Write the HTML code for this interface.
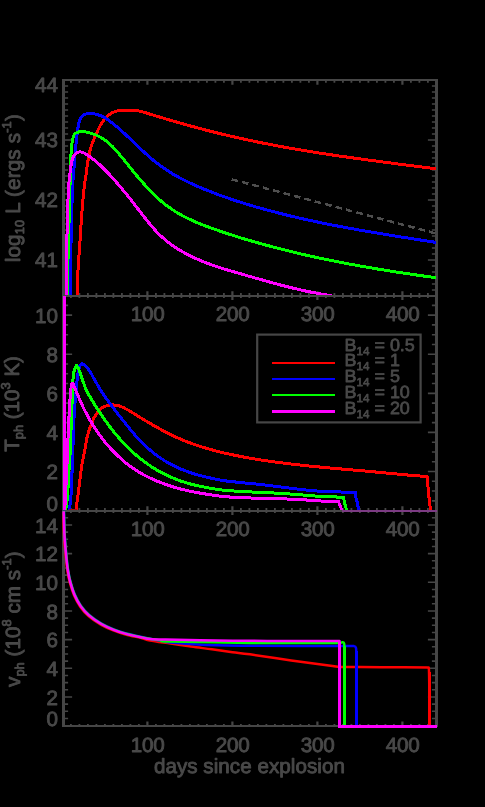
<!DOCTYPE html>
<html><head><meta charset="utf-8"><title>figure</title>
<style>
html,body{margin:0;padding:0;background:#000;}
body{width:485px;height:807px;overflow:hidden;font-family:"Liberation Sans",sans-serif;}
svg{display:block;}
text{font-family:"Liberation Sans",sans-serif;}
</style></head><body>
<svg width="485" height="807" viewBox="0 0 485 807">
<rect width="485" height="807" fill="#000"/>
<!-- panel 1 -->
<g stroke="#464646" fill="none">
<path stroke-width="3" d="M63.5 79.0 V297.0 M436.5 79.0 V297.0"/>
<path stroke-width="2" d="M62.0 80.0 H438.0 M62.0 296.0 H438.0"/>
<path stroke-width="1.8" d="M70.90 80.00 v2.80 M70.90 296.00 v-2.90 M79.40 80.00 v2.80 M79.40 296.00 v-2.90 M87.90 80.00 v2.80 M87.90 296.00 v-2.90 M96.40 80.00 v2.80 M96.40 296.00 v-2.90 M104.90 80.00 v2.80 M104.90 296.00 v-2.90 M113.40 80.00 v2.80 M113.40 296.00 v-2.90 M121.90 80.00 v2.80 M121.90 296.00 v-2.90 M130.40 80.00 v2.80 M130.40 296.00 v-2.90 M138.90 80.00 v2.80 M138.90 296.00 v-2.90 M155.90 80.00 v2.80 M155.90 296.00 v-2.90 M164.40 80.00 v2.80 M164.40 296.00 v-2.90 M172.90 80.00 v2.80 M172.90 296.00 v-2.90 M181.40 80.00 v2.80 M181.40 296.00 v-2.90 M189.90 80.00 v2.80 M189.90 296.00 v-2.90 M198.40 80.00 v2.80 M198.40 296.00 v-2.90 M206.90 80.00 v2.80 M206.90 296.00 v-2.90 M215.40 80.00 v2.80 M215.40 296.00 v-2.90 M223.90 80.00 v2.80 M223.90 296.00 v-2.90 M240.90 80.00 v2.80 M240.90 296.00 v-2.90 M249.40 80.00 v2.80 M249.40 296.00 v-2.90 M257.90 80.00 v2.80 M257.90 296.00 v-2.90 M266.40 80.00 v2.80 M266.40 296.00 v-2.90 M274.90 80.00 v2.80 M274.90 296.00 v-2.90 M283.40 80.00 v2.80 M283.40 296.00 v-2.90 M291.90 80.00 v2.80 M291.90 296.00 v-2.90 M300.40 80.00 v2.80 M300.40 296.00 v-2.90 M308.90 80.00 v2.80 M308.90 296.00 v-2.90 M325.90 80.00 v2.80 M325.90 296.00 v-2.90 M334.40 80.00 v2.80 M334.40 296.00 v-2.90 M342.90 80.00 v2.80 M342.90 296.00 v-2.90 M351.40 80.00 v2.80 M351.40 296.00 v-2.90 M359.90 80.00 v2.80 M359.90 296.00 v-2.90 M368.40 80.00 v2.80 M368.40 296.00 v-2.90 M376.90 80.00 v2.80 M376.90 296.00 v-2.90 M385.40 80.00 v2.80 M385.40 296.00 v-2.90 M393.90 80.00 v2.80 M393.90 296.00 v-2.90 M410.90 80.00 v2.80 M410.90 296.00 v-2.90 M419.40 80.00 v2.80 M419.40 296.00 v-2.90 M427.90 80.00 v2.80 M427.90 296.00 v-2.90"/>
<path stroke-width="2.2" d="M147.40 80.00 v4.80 M147.40 296.00 v-4.80 M232.40 80.00 v4.80 M232.40 296.00 v-4.80 M317.40 80.00 v4.80 M317.40 296.00 v-4.80 M402.40 80.00 v4.80 M402.40 296.00 v-4.80"/>
<path stroke-width="1.6" d="M63.50 290.00 h4.60 M436.50 290.00 h-4.60 M63.50 284.00 h4.60 M436.50 284.00 h-4.60 M63.50 278.00 h4.60 M436.50 278.00 h-4.60 M63.50 272.00 h4.60 M436.50 272.00 h-4.60 M63.50 266.00 h4.60 M436.50 266.00 h-4.60 M63.50 260.00 h8.60 M436.50 260.00 h-8.60 M63.50 254.00 h4.60 M436.50 254.00 h-4.60 M63.50 248.00 h4.60 M436.50 248.00 h-4.60 M63.50 242.00 h4.60 M436.50 242.00 h-4.60 M63.50 236.00 h4.60 M436.50 236.00 h-4.60 M63.50 230.00 h4.60 M436.50 230.00 h-4.60 M63.50 224.00 h4.60 M436.50 224.00 h-4.60 M63.50 218.00 h4.60 M436.50 218.00 h-4.60 M63.50 212.00 h4.60 M436.50 212.00 h-4.60 M63.50 206.00 h4.60 M436.50 206.00 h-4.60 M63.50 200.00 h8.60 M436.50 200.00 h-8.60 M63.50 194.00 h4.60 M436.50 194.00 h-4.60 M63.50 188.00 h4.60 M436.50 188.00 h-4.60 M63.50 182.00 h4.60 M436.50 182.00 h-4.60 M63.50 176.00 h4.60 M436.50 176.00 h-4.60 M63.50 170.00 h4.60 M436.50 170.00 h-4.60 M63.50 164.00 h4.60 M436.50 164.00 h-4.60 M63.50 158.00 h4.60 M436.50 158.00 h-4.60 M63.50 152.00 h4.60 M436.50 152.00 h-4.60 M63.50 146.00 h4.60 M436.50 146.00 h-4.60 M63.50 140.00 h8.60 M436.50 140.00 h-8.60 M63.50 134.00 h4.60 M436.50 134.00 h-4.60 M63.50 128.00 h4.60 M436.50 128.00 h-4.60 M63.50 122.00 h4.60 M436.50 122.00 h-4.60 M63.50 116.00 h4.60 M436.50 116.00 h-4.60 M63.50 110.00 h4.60 M436.50 110.00 h-4.60 M63.50 104.00 h4.60 M436.50 104.00 h-4.60 M63.50 98.00 h4.60 M436.50 98.00 h-4.60 M63.50 92.00 h4.60 M436.50 92.00 h-4.60 M63.50 86.00 h4.60 M436.50 86.00 h-4.60"/>
</g>
<clipPath id="c1"><rect x="60" y="70" width="380" height="226"/></clipPath>
<g fill="none" stroke-linejoin="round" shape-rendering="crispEdges" clip-path="url(#c1)">
<path d="M231.6 179.3 L436 233.5" stroke="#4e4e4e" stroke-width="2.5" stroke-dasharray="6.6 4.15"/>
<path d="M77.40 296.00 C77.43 294.93 77.52 293.58 77.60 289.60 C77.68 285.62 77.57 279.15 77.90 272.10 C78.23 265.05 78.98 256.58 79.60 247.30 C80.22 238.02 80.88 226.02 81.60 216.40 C82.32 206.78 83.20 196.30 83.90 189.60 C84.60 182.90 85.15 180.83 85.80 176.20 C86.45 171.57 86.95 166.62 87.80 161.80 C88.65 156.98 89.48 151.95 90.90 147.30 C92.32 142.65 94.45 138.02 96.30 133.90 C98.15 129.78 99.95 125.75 102.00 122.60 C104.05 119.45 106.27 116.90 108.60 115.00 C110.93 113.10 113.35 111.97 116.00 111.20 C118.65 110.42 121.50 110.49 124.50 110.35 C127.50 110.21 131.17 110.16 134.00 110.35 C136.83 110.54 138.75 110.86 141.50 111.51 C144.25 112.17 147.42 113.34 150.50 114.28 C153.58 115.23 154.98 115.68 160.00 117.16 C165.02 118.65 173.73 121.25 180.60 123.20 C187.47 125.15 194.32 127.04 201.20 128.85 C208.08 130.67 215.02 132.41 221.90 134.07 C228.78 135.73 236.15 137.41 242.50 138.81 C248.85 140.22 253.65 141.23 260.00 142.51 C266.35 143.78 273.73 145.22 280.60 146.48 C287.47 147.75 294.32 148.94 301.20 150.09 C308.08 151.24 315.02 152.34 321.90 153.41 C328.78 154.47 336.15 155.54 342.50 156.46 C348.85 157.37 355.32 158.26 360.00 158.91 C364.68 159.55 365.40 159.65 370.60 160.34 C375.80 161.03 384.32 162.16 391.20 163.06 C398.08 163.97 404.43 164.83 411.90 165.77 C419.37 166.71 431.98 168.21 436.00 168.70" stroke="#ff0000" stroke-width="3.0"/>
<path d="M70.10 296.00 C70.10 294.93 70.05 293.58 70.10 289.60 C70.15 285.62 70.20 281.93 70.40 272.10 C70.60 262.27 70.97 244.35 71.30 230.60 C71.63 216.85 72.05 198.67 72.40 189.60 C72.75 180.53 73.00 181.53 73.40 176.20 C73.80 170.87 74.23 164.13 74.80 157.60 C75.37 151.07 76.18 142.50 76.80 137.00 C77.42 131.50 77.82 127.85 78.50 124.60 C79.18 121.35 79.83 119.23 80.90 117.50 C81.97 115.77 83.23 114.85 84.90 114.20 C86.57 113.55 88.87 113.55 90.90 113.60 C92.93 113.65 94.87 113.85 97.10 114.50 C99.33 115.15 101.55 115.89 104.30 117.48 C107.05 119.08 110.33 121.48 113.60 124.07 C116.87 126.66 120.47 129.90 123.90 133.02 C127.33 136.14 130.42 139.21 134.20 142.77 C137.98 146.34 143.47 151.56 146.60 154.43 C149.73 157.30 150.77 158.15 153.00 159.99 C155.23 161.83 157.12 163.39 160.00 165.47 C162.88 167.54 166.87 170.31 170.30 172.45 C173.73 174.60 177.17 176.53 180.60 178.35 C184.03 180.17 187.47 181.79 190.90 183.39 C194.33 184.99 197.60 186.44 201.20 187.95 C204.80 189.46 209.05 191.12 212.50 192.46 C215.95 193.80 216.90 194.24 221.90 195.98 C226.90 197.72 236.15 200.87 242.50 202.88 C248.85 204.90 253.65 206.27 260.00 208.05 C266.35 209.83 273.73 211.80 280.60 213.54 C287.47 215.28 294.32 216.90 301.20 218.47 C308.08 220.03 315.02 221.51 321.90 222.93 C328.78 224.35 336.15 225.77 342.50 226.97 C348.85 228.17 355.32 229.31 360.00 230.15 C364.68 230.98 366.23 231.24 370.60 231.98 C374.97 232.72 380.15 233.59 386.20 234.58 C392.25 235.56 398.60 236.59 406.90 237.89 C415.20 239.20 431.15 241.65 436.00 242.40" stroke="#0000ff" stroke-width="3.0"/>
<path d="M67.20 296.00 C67.20 294.93 66.93 300.50 67.20 289.60 C67.47 278.70 68.35 247.27 68.80 230.60 C69.25 213.93 69.65 199.35 69.90 189.60 C70.15 179.85 70.13 177.77 70.30 172.10 C70.47 166.43 70.57 160.77 70.90 155.60 C71.23 150.43 71.75 144.62 72.30 141.10 C72.85 137.58 73.33 135.97 74.20 134.50 C75.07 133.03 76.17 132.80 77.50 132.30 C78.83 131.80 80.57 131.50 82.20 131.50 C83.83 131.50 85.83 131.98 87.30 132.30 C88.77 132.62 89.33 132.85 91.00 133.40 C92.67 133.95 95.05 134.53 97.30 135.60 C99.55 136.67 101.93 137.94 104.50 139.80 C107.07 141.66 109.63 143.67 112.70 146.79 C115.77 149.91 119.58 154.56 122.90 158.53 C126.22 162.50 129.70 167.05 132.60 170.60 C135.50 174.15 137.30 176.41 140.30 179.83 C143.30 183.26 147.17 187.63 150.60 191.15 C154.03 194.66 157.47 197.96 160.90 200.91 C164.33 203.86 167.77 206.46 171.20 208.84 C174.63 211.22 178.05 213.26 181.50 215.18 C184.95 217.09 188.45 218.76 191.90 220.34 C195.35 221.92 198.77 223.31 202.20 224.67 C205.63 226.02 209.07 227.24 212.50 228.48 C215.93 229.71 218.12 230.52 222.80 232.07 C227.48 233.62 234.20 235.84 240.60 237.80 C247.00 239.76 254.32 241.89 261.20 243.80 C268.08 245.72 275.02 247.56 281.90 249.30 C288.78 251.05 296.15 252.81 302.50 254.29 C308.85 255.76 312.92 256.68 320.00 258.17 C327.08 259.66 337.40 261.74 345.00 263.21 C352.60 264.68 358.73 265.77 365.60 266.97 C372.47 268.17 379.32 269.31 386.20 270.42 C393.08 271.53 398.60 272.39 406.90 273.61 C415.20 274.84 431.15 277.06 436.00 277.75" stroke="#00ff00" stroke-width="3.0"/>
<path d="M66.10 296.00 C66.10 294.93 66.07 293.58 66.10 289.60 C66.13 285.62 66.13 281.93 66.30 272.10 C66.47 262.27 66.75 244.35 67.10 230.60 C67.45 216.85 67.97 198.67 68.40 189.60 C68.83 180.53 69.22 180.50 69.70 176.20 C70.18 171.90 70.72 167.00 71.30 163.80 C71.88 160.60 72.38 158.77 73.20 157.00 C74.02 155.23 75.07 154.07 76.20 153.20 C77.33 152.33 78.58 151.78 80.00 151.80 C81.42 151.82 82.88 152.37 84.70 153.30 C86.52 154.23 88.67 155.74 90.90 157.40 C93.13 159.06 95.68 161.13 98.10 163.28 C100.52 165.42 102.82 167.65 105.40 170.28 C107.98 172.92 110.85 175.99 113.60 179.06 C116.35 182.13 119.15 185.40 121.90 188.69 C124.65 191.99 127.35 195.35 130.10 198.83 C132.85 202.30 135.65 206.00 138.40 209.53 C141.15 213.06 144.20 217.03 146.60 220.03 C149.00 223.02 150.57 224.97 152.80 227.50 C155.03 230.03 157.08 232.48 160.00 235.23 C162.92 237.97 166.87 241.41 170.30 243.98 C173.73 246.56 177.17 248.65 180.60 250.68 C184.03 252.71 187.47 254.46 190.90 256.16 C194.33 257.85 197.77 259.39 201.20 260.84 C204.63 262.28 208.05 263.56 211.50 264.81 C214.95 266.05 217.05 266.80 221.90 268.30 C226.75 269.80 234.05 271.91 240.60 273.81 C247.15 275.70 254.32 277.75 261.20 279.67 C268.08 281.59 275.02 283.56 281.90 285.34 C288.78 287.12 296.15 288.94 302.50 290.35 C308.85 291.77 315.17 292.89 320.00 293.82 C324.83 294.75 329.58 295.59 331.50 295.95" stroke="#ff00ff" stroke-width="3.0"/>
</g>
<!-- panel 2 -->
<g stroke="#464646" fill="none">
<path stroke-width="3" d="M63.5 295.0 V512.0 M436.5 295.0 V512.0"/>
<path stroke-width="2" d="M62.0 296.0 H438.0 M62.0 511.0 H438.0"/>
<path stroke-width="1.8" d="M70.90 296.00 v2.00 M70.90 511.00 v-2.90 M79.40 296.00 v2.00 M79.40 511.00 v-2.90 M87.90 296.00 v2.00 M87.90 511.00 v-2.90 M96.40 296.00 v2.00 M96.40 511.00 v-2.90 M104.90 296.00 v2.00 M104.90 511.00 v-2.90 M113.40 296.00 v2.00 M113.40 511.00 v-2.90 M121.90 296.00 v2.00 M121.90 511.00 v-2.90 M130.40 296.00 v2.00 M130.40 511.00 v-2.90 M138.90 296.00 v2.00 M138.90 511.00 v-2.90 M155.90 296.00 v2.00 M155.90 511.00 v-2.90 M164.40 296.00 v2.00 M164.40 511.00 v-2.90 M172.90 296.00 v2.00 M172.90 511.00 v-2.90 M181.40 296.00 v2.00 M181.40 511.00 v-2.90 M189.90 296.00 v2.00 M189.90 511.00 v-2.90 M198.40 296.00 v2.00 M198.40 511.00 v-2.90 M206.90 296.00 v2.00 M206.90 511.00 v-2.90 M215.40 296.00 v2.00 M215.40 511.00 v-2.90 M223.90 296.00 v2.00 M223.90 511.00 v-2.90 M240.90 296.00 v2.00 M240.90 511.00 v-2.90 M249.40 296.00 v2.00 M249.40 511.00 v-2.90 M257.90 296.00 v2.00 M257.90 511.00 v-2.90 M266.40 296.00 v2.00 M266.40 511.00 v-2.90 M274.90 296.00 v2.00 M274.90 511.00 v-2.90 M283.40 296.00 v2.00 M283.40 511.00 v-2.90 M291.90 296.00 v2.00 M291.90 511.00 v-2.90 M300.40 296.00 v2.00 M300.40 511.00 v-2.90 M308.90 296.00 v2.00 M308.90 511.00 v-2.90 M325.90 296.00 v2.00 M325.90 511.00 v-2.90 M334.40 296.00 v2.00 M334.40 511.00 v-2.90 M342.90 296.00 v2.00 M342.90 511.00 v-2.90 M351.40 296.00 v2.00 M351.40 511.00 v-2.90 M359.90 296.00 v2.00 M359.90 511.00 v-2.90 M368.40 296.00 v2.00 M368.40 511.00 v-2.90 M376.90 296.00 v2.00 M376.90 511.00 v-2.90 M385.40 296.00 v2.00 M385.40 511.00 v-2.90 M393.90 296.00 v2.00 M393.90 511.00 v-2.90 M410.90 296.00 v2.00 M410.90 511.00 v-2.90 M419.40 296.00 v2.00 M419.40 511.00 v-2.90 M427.90 296.00 v2.00 M427.90 511.00 v-2.90"/>
<path stroke-width="2.2" d="M147.40 296.00 v4.00 M147.40 511.00 v-4.80 M232.40 296.00 v4.00 M232.40 511.00 v-4.80 M317.40 296.00 v4.00 M317.40 511.00 v-4.80 M402.40 296.00 v4.00 M402.40 511.00 v-4.80"/>
<path stroke-width="1.6" d="M63.50 500.83 h4.60 M436.50 500.83 h-4.60 M63.50 491.05 h4.60 M436.50 491.05 h-4.60 M63.50 481.28 h4.60 M436.50 481.28 h-4.60 M63.50 471.51 h8.60 M436.50 471.51 h-8.60 M63.50 461.74 h4.60 M436.50 461.74 h-4.60 M63.50 451.96 h4.60 M436.50 451.96 h-4.60 M63.50 442.19 h4.60 M436.50 442.19 h-4.60 M63.50 432.42 h8.60 M436.50 432.42 h-8.60 M63.50 422.65 h4.60 M436.50 422.65 h-4.60 M63.50 412.87 h4.60 M436.50 412.87 h-4.60 M63.50 403.10 h4.60 M436.50 403.10 h-4.60 M63.50 393.33 h8.60 M436.50 393.33 h-8.60 M63.50 383.55 h4.60 M436.50 383.55 h-4.60 M63.50 373.78 h4.60 M436.50 373.78 h-4.60 M63.50 364.01 h4.60 M436.50 364.01 h-4.60 M63.50 354.24 h8.60 M436.50 354.24 h-8.60 M63.50 344.46 h4.60 M436.50 344.46 h-4.60 M63.50 334.69 h4.60 M436.50 334.69 h-4.60 M63.50 324.92 h4.60 M436.50 324.92 h-4.60 M63.50 315.15 h8.60 M436.50 315.15 h-8.60 M63.50 305.37 h4.60 M436.50 305.37 h-4.60"/>
</g>
<clipPath id="c2"><rect x="60" y="290" width="380" height="221.5"/></clipPath>
<g fill="none" stroke-linejoin="round" shape-rendering="crispEdges" clip-path="url(#c2)">
<path d="M76.00 511.00 C76.02 510.67 75.60 512.95 76.10 509.00 C76.60 505.05 78.08 494.35 79.00 487.30 C79.92 480.25 80.62 472.98 81.60 466.70 C82.58 460.42 84.03 454.33 84.90 449.60 C85.77 444.87 85.97 441.90 86.80 438.30 C87.63 434.70 88.70 431.42 89.90 428.00 C91.10 424.58 92.45 420.70 94.00 417.80 C95.55 414.90 97.48 412.48 99.20 410.60 C100.92 408.72 102.25 407.45 104.30 406.50 C106.35 405.55 108.92 404.97 111.50 404.90 C114.08 404.83 117.05 405.25 119.80 406.10 C122.55 406.95 124.90 408.29 128.00 410.01 C131.10 411.72 134.95 414.29 138.40 416.38 C141.85 418.48 145.10 420.48 148.70 422.59 C152.30 424.70 156.40 427.08 160.00 429.05 C163.60 431.02 166.87 432.73 170.30 434.41 C173.73 436.09 177.17 437.66 180.60 439.12 C184.03 440.59 187.47 441.94 190.90 443.21 C194.33 444.48 196.03 445.21 201.20 446.75 C206.37 448.30 215.02 450.80 221.90 452.48 C228.78 454.16 236.15 455.60 242.50 456.82 C248.85 458.04 253.65 458.83 260.00 459.82 C266.35 460.81 273.73 461.86 280.60 462.75 C287.47 463.64 294.32 464.42 301.20 465.17 C308.08 465.92 315.02 466.58 321.90 467.24 C328.78 467.89 336.15 468.52 342.50 469.09 C348.85 469.65 355.32 470.19 360.00 470.60 C364.68 471.01 365.40 471.06 370.60 471.54 C375.80 472.02 384.32 472.85 391.20 473.49 C398.08 474.13 405.88 474.88 411.90 475.40 C417.92 475.92 424.73 476.40 427.30 476.60 C427.48 479.08 427.88 485.95 428.40 491.50 C428.92 497.05 430.07 506.83 430.40 509.90" stroke="#ff0000" stroke-width="3.0"/>
<path d="M69.10 509.90 C69.17 509.75 69.13 512.07 69.50 509.00 C69.87 505.93 70.82 499.58 71.30 491.50 C71.78 483.42 72.13 467.48 72.40 460.50 C72.67 453.52 72.73 454.33 72.90 449.60 C73.07 444.87 73.15 438.45 73.40 432.10 C73.65 425.75 73.95 418.38 74.40 411.50 C74.85 404.62 75.48 397.33 76.10 390.80 C76.72 384.27 77.42 376.55 78.10 372.30 C78.78 368.05 79.53 366.72 80.20 365.30 C80.87 363.88 81.17 363.63 82.10 363.80 C83.03 363.97 84.50 365.03 85.80 366.30 C87.10 367.57 88.35 369.00 89.90 371.40 C91.45 373.80 93.22 377.41 95.10 380.70 C96.98 383.99 98.80 387.45 101.20 391.16 C103.60 394.87 106.40 398.77 109.50 402.97 C112.60 407.16 116.37 411.94 119.80 416.33 C123.23 420.71 127.00 425.52 130.10 429.27 C133.20 433.03 135.30 435.60 138.40 438.88 C141.50 442.16 145.10 445.80 148.70 448.94 C152.30 452.08 156.40 455.22 160.00 457.73 C163.60 460.24 166.87 462.14 170.30 464.01 C173.73 465.88 177.17 467.48 180.60 468.95 C184.03 470.41 187.47 471.68 190.90 472.82 C194.33 473.96 196.03 474.55 201.20 475.81 C206.37 477.06 215.02 479.20 221.90 480.35 C228.78 481.50 236.15 482.04 242.50 482.73 C248.85 483.41 253.65 483.75 260.00 484.45 C266.35 485.16 273.73 486.10 280.60 486.94 C287.47 487.78 294.32 488.75 301.20 489.49 C308.08 490.23 315.02 490.96 321.90 491.39 C328.78 491.81 336.92 491.86 342.50 492.05 C348.08 492.24 353.25 492.47 355.40 492.55 C355.50 493.48 355.70 496.52 356.00 498.15 C356.30 499.78 356.75 500.39 357.20 502.35 C357.65 504.31 358.45 508.64 358.70 509.90" stroke="#0000ff" stroke-width="3.0"/>
<path d="M65.60 509.90 C65.63 509.75 65.50 511.05 65.80 509.00 C66.10 506.95 66.87 503.97 67.40 497.60 C67.93 491.23 68.52 478.80 69.00 470.80 C69.48 462.80 69.98 456.05 70.30 449.60 C70.62 443.15 70.65 438.45 70.90 432.10 C71.15 425.75 71.55 418.38 71.80 411.50 C72.05 404.62 72.13 396.97 72.40 390.80 C72.67 384.63 72.88 378.42 73.40 374.50 C73.92 370.58 74.92 368.73 75.50 367.30 C76.08 365.87 76.22 365.22 76.90 365.90 C77.58 366.58 78.63 368.93 79.60 371.40 C80.57 373.87 81.50 377.43 82.70 380.70 C83.90 383.97 85.08 387.46 86.80 391.00 C88.52 394.54 90.93 398.45 93.00 401.91 C95.07 405.37 96.97 408.37 99.20 411.74 C101.43 415.12 104.00 418.86 106.40 422.17 C108.80 425.48 111.02 428.40 113.60 431.58 C116.18 434.76 118.80 437.91 121.90 441.25 C125.00 444.59 128.77 448.44 132.20 451.62 C135.63 454.80 139.07 457.68 142.50 460.34 C145.93 462.99 149.88 465.65 152.80 467.57 C155.72 469.48 157.08 470.27 160.00 471.83 C162.92 473.38 166.87 475.39 170.30 476.91 C173.73 478.44 177.17 479.76 180.60 480.96 C184.03 482.16 187.47 483.19 190.90 484.11 C194.33 485.03 196.03 485.50 201.20 486.49 C206.37 487.47 215.02 489.19 221.90 490.03 C228.78 490.86 236.15 491.13 242.50 491.52 C248.85 491.91 253.65 492.06 260.00 492.37 C266.35 492.68 273.73 492.96 280.60 493.38 C287.47 493.79 294.32 494.31 301.20 494.84 C308.08 495.37 314.85 496.16 321.90 496.55 C328.95 496.94 339.90 497.05 343.50 497.15 C343.67 498.02 343.98 500.23 344.50 502.35 C345.02 504.48 346.25 508.64 346.60 509.90" stroke="#00ff00" stroke-width="3.0"/>
<path d="M64.20 296.20 L64.70 511.00 C64.87 507.75 65.28 499.92 65.70 491.50 C66.12 483.08 66.87 467.48 67.20 460.50 C67.53 453.52 67.53 454.33 67.70 449.60 C67.87 444.87 67.93 438.45 68.20 432.10 C68.47 425.75 68.95 417.65 69.30 411.50 C69.65 405.35 69.97 399.47 70.30 395.20 C70.63 390.93 70.88 387.87 71.30 385.90 C71.72 383.93 72.10 382.72 72.80 383.40 C73.50 384.08 74.37 387.35 75.50 390.00 C76.63 392.65 78.23 396.24 79.60 399.30 C80.97 402.36 82.15 405.19 83.70 408.34 C85.25 411.48 87.18 415.10 88.90 418.16 C90.62 421.23 91.95 423.54 94.00 426.71 C96.05 429.88 98.62 433.74 101.20 437.18 C103.78 440.61 106.05 443.59 109.50 447.34 C112.95 451.08 118.12 456.25 121.90 459.65 C125.68 463.04 128.77 465.29 132.20 467.71 C135.63 470.12 139.07 472.21 142.50 474.14 C145.93 476.08 149.88 477.93 152.80 479.29 C155.72 480.65 157.08 481.19 160.00 482.30 C162.92 483.42 166.87 484.86 170.30 485.97 C173.73 487.09 177.17 488.08 180.60 488.99 C184.03 489.89 187.47 490.69 190.90 491.41 C194.33 492.13 196.03 492.48 201.20 493.31 C206.37 494.14 215.02 495.67 221.90 496.40 C228.78 497.13 236.15 497.38 242.50 497.69 C248.85 498.00 253.65 498.07 260.00 498.25 C266.35 498.43 273.73 498.53 280.60 498.77 C287.47 499.00 294.32 499.29 301.20 499.67 C308.08 500.05 315.70 500.75 321.90 501.05 C328.10 501.35 335.65 501.38 338.40 501.45 C338.67 502.12 339.42 504.04 340.00 505.45 C340.58 506.86 341.58 509.16 341.90 509.90" stroke="#ff00ff" stroke-width="3.0"/>
</g>
<path d="M69 509.5 H76.5" stroke="#9a1212" stroke-width="1" fill="none" shape-rendering="crispEdges"/>
<!-- panel 3 -->
<g stroke="#464646" fill="none">
<path stroke-width="3" d="M63.5 510.0 V727.0 M436.5 510.0 V727.0"/>
<path stroke-width="2" d="M62.0 511.0 H438.0 M62.0 726.0 H438.0"/>
<path stroke-width="1.8" d="M70.90 511.00 v2.00 M70.90 726.00 v-2.10 M79.40 511.00 v2.00 M79.40 726.00 v-2.10 M87.90 511.00 v2.00 M87.90 726.00 v-2.10 M96.40 511.00 v2.00 M96.40 726.00 v-2.10 M104.90 511.00 v2.00 M104.90 726.00 v-2.10 M113.40 511.00 v2.00 M113.40 726.00 v-2.10 M121.90 511.00 v2.00 M121.90 726.00 v-2.10 M130.40 511.00 v2.00 M130.40 726.00 v-2.10 M138.90 511.00 v2.00 M138.90 726.00 v-2.10 M155.90 511.00 v2.00 M155.90 726.00 v-2.10 M164.40 511.00 v2.00 M164.40 726.00 v-2.10 M172.90 511.00 v2.00 M172.90 726.00 v-2.10 M181.40 511.00 v2.00 M181.40 726.00 v-2.10 M189.90 511.00 v2.00 M189.90 726.00 v-2.10 M198.40 511.00 v2.00 M198.40 726.00 v-2.10 M206.90 511.00 v2.00 M206.90 726.00 v-2.10 M215.40 511.00 v2.00 M215.40 726.00 v-2.10 M223.90 511.00 v2.00 M223.90 726.00 v-2.10 M240.90 511.00 v2.00 M240.90 726.00 v-2.10 M249.40 511.00 v2.00 M249.40 726.00 v-2.10 M257.90 511.00 v2.00 M257.90 726.00 v-2.10 M266.40 511.00 v2.00 M266.40 726.00 v-2.10 M274.90 511.00 v2.00 M274.90 726.00 v-2.10 M283.40 511.00 v2.00 M283.40 726.00 v-2.10 M291.90 511.00 v2.00 M291.90 726.00 v-2.10 M300.40 511.00 v2.00 M300.40 726.00 v-2.10 M308.90 511.00 v2.00 M308.90 726.00 v-2.10 M325.90 511.00 v2.00 M325.90 726.00 v-2.10 M334.40 511.00 v2.00 M334.40 726.00 v-2.10 M342.90 511.00 v2.00 M342.90 726.00 v-2.10 M351.40 511.00 v2.00 M351.40 726.00 v-2.10 M359.90 511.00 v2.00 M359.90 726.00 v-2.10 M368.40 511.00 v2.00 M368.40 726.00 v-2.10 M376.90 511.00 v2.00 M376.90 726.00 v-2.10 M385.40 511.00 v2.00 M385.40 726.00 v-2.10 M393.90 511.00 v2.00 M393.90 726.00 v-2.10 M410.90 511.00 v2.00 M410.90 726.00 v-2.10 M419.40 511.00 v2.00 M419.40 726.00 v-2.10 M427.90 511.00 v2.00 M427.90 726.00 v-2.10"/>
<path stroke-width="2.2" d="M147.40 511.00 v4.00 M147.40 726.00 v-4.60 M232.40 511.00 v4.00 M232.40 726.00 v-4.60 M317.40 511.00 v4.00 M317.40 726.00 v-4.60 M402.40 511.00 v4.00 M402.40 726.00 v-4.60"/>
<path stroke-width="1.6" d="M63.50 718.43 h4.60 M436.50 718.43 h-4.60 M63.50 711.27 h4.60 M436.50 711.27 h-4.60 M63.50 704.10 h4.60 M436.50 704.10 h-4.60 M63.50 696.93 h8.60 M436.50 696.93 h-8.60 M63.50 689.77 h4.60 M436.50 689.77 h-4.60 M63.50 682.60 h4.60 M436.50 682.60 h-4.60 M63.50 675.43 h4.60 M436.50 675.43 h-4.60 M63.50 668.27 h8.60 M436.50 668.27 h-8.60 M63.50 661.10 h4.60 M436.50 661.10 h-4.60 M63.50 653.93 h4.60 M436.50 653.93 h-4.60 M63.50 646.77 h4.60 M436.50 646.77 h-4.60 M63.50 639.60 h8.60 M436.50 639.60 h-8.60 M63.50 632.43 h4.60 M436.50 632.43 h-4.60 M63.50 625.27 h4.60 M436.50 625.27 h-4.60 M63.50 618.10 h4.60 M436.50 618.10 h-4.60 M63.50 610.93 h8.60 M436.50 610.93 h-8.60 M63.50 603.77 h4.60 M436.50 603.77 h-4.60 M63.50 596.60 h4.60 M436.50 596.60 h-4.60 M63.50 589.43 h4.60 M436.50 589.43 h-4.60 M63.50 582.27 h8.60 M436.50 582.27 h-8.60 M63.50 575.10 h4.60 M436.50 575.10 h-4.60 M63.50 567.93 h4.60 M436.50 567.93 h-4.60 M63.50 560.77 h4.60 M436.50 560.77 h-4.60 M63.50 553.60 h8.60 M436.50 553.60 h-8.60 M63.50 546.43 h4.60 M436.50 546.43 h-4.60 M63.50 539.27 h4.60 M436.50 539.27 h-4.60 M63.50 532.10 h4.60 M436.50 532.10 h-4.60 M63.50 524.93 h8.60 M436.50 524.93 h-8.60 M63.50 517.77 h4.60 M436.50 517.77 h-4.60"/>
</g>
<path d="M342 511.0 H437" stroke="#7c3b83" stroke-width="2" fill="none"/>
<g fill="none" stroke-linejoin="round">
<path d="M63.30 511.80 C63.43 515.92 63.68 528.95 64.10 536.50 C64.52 544.05 65.22 551.17 65.80 557.10 C66.38 563.03 66.92 567.78 67.60 572.10 C68.28 576.42 68.83 579.13 69.90 583.00 C70.97 586.87 72.28 591.35 74.00 595.30 C75.72 599.25 77.78 603.25 80.20 606.70 C82.62 610.15 85.07 613.02 88.50 616.00 C91.93 618.98 96.68 622.20 100.80 624.60 C104.92 627.00 109.07 628.75 113.20 630.40 C117.33 632.05 120.78 633.20 125.60 634.50 C130.42 635.80 138.03 637.22 142.10 638.20 C146.17 639.18 145.25 639.52 150.00 640.40 C154.75 641.28 163.73 642.47 170.60 643.50 C177.47 644.53 184.32 645.63 191.20 646.60 C198.08 647.57 205.02 648.37 211.90 649.30 C218.78 650.23 226.15 651.37 232.50 652.20 C238.85 653.03 240.22 652.93 250.00 654.30 C259.78 655.67 277.45 658.47 291.20 660.40 C304.95 662.33 324.33 664.82 332.50 665.90 C340.67 666.98 335.62 666.70 340.20 666.90 C344.78 667.10 350.03 667.03 360.00 667.10 C369.97 667.17 388.62 667.23 400.00 667.30 C411.38 667.37 423.58 667.47 428.30 667.50 C428.42 668.05 428.82 665.72 429.00 670.80 C429.18 675.88 429.32 688.80 429.40 698.00 C429.48 707.20 429.48 721.33 429.50 726.00" stroke="#ff0000" stroke-width="2.5"/>
<path d="M429.5 672 V726" stroke="#ff0000" stroke-width="3" shape-rendering="crispEdges"/>
<path d="M64.00 510.80 C64.13 514.92 64.38 527.95 64.80 535.50 C65.22 543.05 65.92 550.17 66.50 556.10 C67.08 562.03 67.62 566.78 68.30 571.10 C68.98 575.42 69.53 578.13 70.60 582.00 C71.67 585.87 72.98 590.35 74.70 594.30 C76.42 598.25 78.48 602.25 80.90 605.70 C83.32 609.15 85.77 612.02 89.20 615.00 C92.63 617.98 97.38 621.20 101.50 623.60 C105.62 626.00 109.77 627.75 113.90 629.40 C118.03 631.05 121.48 632.20 126.30 633.50 C131.12 634.80 137.18 636.02 142.80 637.20 C148.42 638.38 155.37 639.72 160.00 640.60 C164.63 641.48 163.68 641.82 170.60 642.50 C177.52 643.18 188.27 644.15 201.50 644.70 C214.73 645.25 233.58 645.58 250.00 645.80 C266.42 646.02 282.73 645.97 300.00 646.00 C317.27 646.03 344.67 646.00 353.60 646.00 C354.00 646.33 355.52 645.67 356.00 648.00 C356.48 650.33 356.42 658.00 356.50 660.00 L356.50 726.00" stroke="#0000ff" stroke-width="2.5"/>
<path d="M356.5 651 V726" stroke="#0000ff" stroke-width="3" shape-rendering="crispEdges"/>
<path d="M63.90 511.00 C64.03 515.12 64.28 528.15 64.70 535.70 C65.12 543.25 65.82 550.37 66.40 556.30 C66.98 562.23 67.52 566.98 68.20 571.30 C68.88 575.62 69.43 578.33 70.50 582.20 C71.57 586.07 72.88 590.55 74.60 594.50 C76.32 598.45 78.38 602.45 80.80 605.90 C83.22 609.35 85.67 612.22 89.10 615.20 C92.53 618.18 97.28 621.40 101.40 623.80 C105.52 626.20 109.67 627.95 113.80 629.60 C117.93 631.25 121.38 632.40 126.20 633.70 C131.02 635.00 137.07 636.30 142.70 637.40 C148.33 638.50 155.35 639.62 160.00 640.30 C164.65 640.98 155.60 641.07 170.60 641.50 C185.60 641.93 228.43 642.65 250.00 642.90 C271.57 643.15 284.92 642.98 300.00 643.00 C315.08 643.02 333.75 643.00 340.50 643.00 C340.83 642.87 341.88 642.07 342.50 642.20 C343.12 642.33 343.87 641.67 344.20 643.80 C344.53 645.93 344.45 653.13 344.50 655.00 L344.50 726.00" stroke="#00ff00" stroke-width="2.5"/>
<path d="M344.5 646 V726" stroke="#00ff00" stroke-width="3" shape-rendering="crispEdges"/>
<path d="M63.70 511.20 C63.83 515.32 64.08 528.35 64.50 535.90 C64.92 543.45 65.62 550.57 66.20 556.50 C66.78 562.43 67.32 567.18 68.00 571.50 C68.68 575.82 69.23 578.53 70.30 582.40 C71.37 586.27 72.68 590.75 74.40 594.70 C76.12 598.65 78.18 602.65 80.60 606.10 C83.02 609.55 85.47 612.42 88.90 615.40 C92.33 618.38 97.08 621.60 101.20 624.00 C105.32 626.40 109.47 628.15 113.60 629.80 C117.73 631.45 121.18 632.60 126.00 633.90 C130.82 635.20 138.50 636.77 142.50 637.60 C146.50 638.43 146.17 638.58 150.00 638.90 C153.83 639.22 157.17 639.27 165.50 639.50 C173.83 639.73 185.92 640.08 200.00 640.30 C214.08 640.52 233.33 640.68 250.00 640.80 C266.67 640.92 285.08 640.97 300.00 641.00 C314.92 641.03 332.92 641.00 339.50 641.00 L339.50 726.40 L437.00 726.40" stroke="#ff00ff" stroke-width="2.5"/>
<path d="M339.5 642 V728 M338 726.5 H437" stroke="#ff00ff" stroke-width="3" shape-rendering="crispEdges"/>
</g>
<!-- legend -->
<g>
<rect x="257.2" y="334.6" width="163.4" height="87.8" fill="none" stroke="#464646" stroke-width="2.2"/>
<path d="M272 363.0 H335" stroke="#ff0000" stroke-width="2.5" shape-rendering="crispEdges"/>
<path d="M272 379.0 H335" stroke="#0000ff" stroke-width="2.5" shape-rendering="crispEdges"/>
<path d="M272 395.0 H335" stroke="#00ff00" stroke-width="2.5" shape-rendering="crispEdges"/>
<path d="M272 411.5 H335" stroke="#ff00ff" stroke-width="2.5" shape-rendering="crispEdges"/>
</g>
<!-- labels -->
<g fill="#4a4a4a" stroke="#4a4a4a" stroke-width="0.9" font-size="20.6" stroke-linejoin="round" text-rendering="geometricPrecision" opacity="0.999">
<text x="147.7" y="321.2" text-anchor="middle" letter-spacing="-0.15">100</text>
<text x="232.7" y="321.2" text-anchor="middle" letter-spacing="-0.15">200</text>
<text x="317.7" y="321.2" text-anchor="middle" letter-spacing="-0.15">300</text>
<text x="402.7" y="321.2" text-anchor="middle" letter-spacing="-0.15">400</text>
<text x="147.7" y="536.3" text-anchor="middle" letter-spacing="-0.15">100</text>
<text x="232.7" y="536.3" text-anchor="middle" letter-spacing="-0.15">200</text>
<text x="317.7" y="536.3" text-anchor="middle" letter-spacing="-0.15">300</text>
<text x="402.7" y="536.3" text-anchor="middle" letter-spacing="-0.15">400</text>
<text x="147.7" y="752.0" text-anchor="middle" letter-spacing="-0.15">100</text>
<text x="232.7" y="752.0" text-anchor="middle" letter-spacing="-0.15">200</text>
<text x="317.7" y="752.0" text-anchor="middle" letter-spacing="-0.15">300</text>
<text x="402.7" y="752.0" text-anchor="middle" letter-spacing="-0.15">400</text>
<text x="58.0" y="91.9" text-anchor="end">44</text>
<text x="58.0" y="147.2" text-anchor="end">43</text>
<text x="58.0" y="207.2" text-anchor="end">42</text>
<text x="58.0" y="267.2" text-anchor="end">41</text>
<text x="58.0" y="322.7" text-anchor="end">10</text>
<text x="58.0" y="361.8" text-anchor="end">8</text>
<text x="58.0" y="400.9" text-anchor="end">6</text>
<text x="58.0" y="440.0" text-anchor="end">4</text>
<text x="58.0" y="479.1" text-anchor="end">2</text>
<text x="58.0" y="511.3" text-anchor="end">0</text>
<text x="58.0" y="532.5" text-anchor="end">14</text>
<text x="58.0" y="561.2" text-anchor="end">12</text>
<text x="58.0" y="589.9" text-anchor="end">10</text>
<text x="58.0" y="618.5" text-anchor="end">8</text>
<text x="58.0" y="647.2" text-anchor="end">6</text>
<text x="58.0" y="675.9" text-anchor="end">4</text>
<text x="58.0" y="704.5" text-anchor="end">2</text>
<text x="58.0" y="725.6" text-anchor="end">0</text>
<text x="249.4" y="772.6" text-anchor="middle" letter-spacing="0.05">days since explosion</text>
<text transform="translate(19.6 188.2) rotate(-90)" text-anchor="middle" letter-spacing="0.18">log<tspan font-size="12.8" dy="4.4">10</tspan><tspan dy="-4.4"> L (ergs s</tspan><tspan font-size="12.8" dy="-8.6">-1</tspan><tspan dy="8.6">)</tspan></text>
<text transform="translate(19.0 403.9) rotate(-90)" text-anchor="middle">T<tspan font-size="12.8" dy="4.4">ph</tspan><tspan dy="-4.4"> (10</tspan><tspan font-size="12.8" dy="-8.6">3</tspan><tspan dy="8.6"> K)</tspan></text>
<text transform="translate(19.6 619.2) rotate(-90)" text-anchor="middle" letter-spacing="0.06">v<tspan font-size="12.8" dy="4.4">ph</tspan><tspan dy="-4.4"> (10</tspan><tspan font-size="12.8" dy="-8.6">8</tspan><tspan dy="8.6"> cm s</tspan><tspan font-size="12.8" dy="-8.6">-1</tspan><tspan dy="8.6">)</tspan></text>
<g stroke-width="0.75" font-size="17.6">
<text transform="translate(344.4 350.5) scale(1.02 1)">B<tspan font-size="11.5" dy="4">14</tspan><tspan dy="-4"> = 0.5</tspan></text>
<text transform="translate(344.4 366.2) scale(1.02 1)">B<tspan font-size="11.5" dy="4">14</tspan><tspan dy="-4"> = 1</tspan></text>
<text transform="translate(344.4 382.0) scale(1.02 1)">B<tspan font-size="11.5" dy="4">14</tspan><tspan dy="-4"> = 5</tspan></text>
<text transform="translate(344.4 397.8) scale(1.02 1)">B<tspan font-size="11.5" dy="4">14</tspan><tspan dy="-4"> = 10</tspan></text>
<text transform="translate(344.4 413.5) scale(1.02 1)">B<tspan font-size="11.5" dy="4">14</tspan><tspan dy="-4"> = 20</tspan></text>
</g>
</g>
</svg>
</body></html>
